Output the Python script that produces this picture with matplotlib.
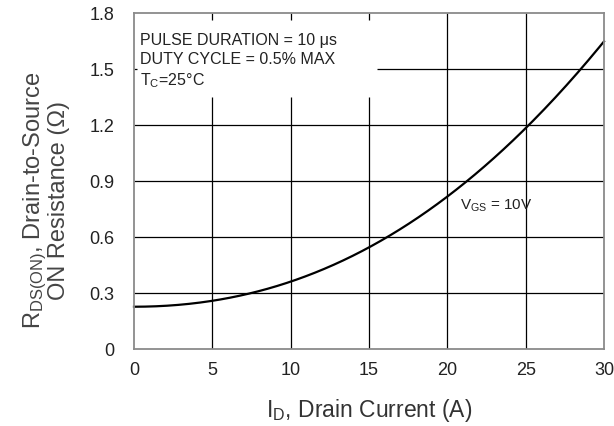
import numpy as np
import matplotlib
matplotlib.use("Agg")
import matplotlib.pyplot as plt
from numpy.polynomial import polynomial as P

plt.rcParams['font.family'] = ['Liberation Sans', 'DejaVu Sans']
plt.rcParams['mathtext.default'] = 'regular'

# curve
current = [0, 2.5, 5, 7.5, 10, 12.5, 15, 17.5, 20, 22.5, 25, 27.5, 30]
rds_on = [0.225, 0.235, 0.262, 0.30, 0.357, 0.44, 0.545, 0.67, 0.82, 0.99, 1.18, 1.40, 1.65]

x_ticks = [0, 5, 10, 15, 20, 25, 30]
y_ticks = [0, 0.3, 0.6, 0.9, 1.2, 1.5, 1.8]
y_tick_labels = ["0", "0.3", "0.6", "0.9", "1.2", "1.5", "1.8"]

fig = plt.figure(figsize=(6.14, 4.27), dpi=100)
ax = fig.add_axes([134 / 614, 77 / 427, 470 / 614, 336 / 427])

# grid, partly hidden behind the note box in the top-left corner
for xv in [5, 10, 15]:
    ax.vlines(xv, 0, 1.35, color='black', lw=0.9)
    ax.vlines(xv, 1.76, 1.8, color='black', lw=0.9)
for xv in [20, 25]:
    ax.vlines(xv, 0, 1.8, color='black', lw=0.9)
for yv in [0.3, 0.6, 0.9, 1.2]:
    ax.hlines(yv, 0, 30, color='black', lw=0.9)
ax.hlines(1.5, 15.5, 30, color='black', lw=0.9)
ax.hlines(1.5, 0, 0.2, color='black', lw=0.9)

# smooth the read points
smooth_x = np.linspace(0, 30, 300)
coef = P.polyfit(current, rds_on, 4)
ax.plot(smooth_x, P.polyval(smooth_x, coef), color='black', lw=1.6, clip_on=False)

ax.set_xlim(0, 30)
ax.set_ylim(0, 1.8)
ax.set_xticks(x_ticks)
ax.set_yticks(y_ticks)
ax.set_yticklabels(y_tick_labels)
ax.tick_params(length=0, labelsize=13, colors='#222222')
ax.tick_params(axis='y', pad=14)
ax.tick_params(axis='x', pad=9)
for s in ax.spines.values():
    s.set_color('#8a8a8a')
    s.set_linewidth(1.3)

ax.text(0.38, 1.70, "PULSE DURATION = 10 \u03bcs\nDUTY CYCLE = 0.5% MAX\nT$_C$=25\u00b0C",
        fontsize=11.5, va='top', ha='left', linespacing=1.32, color='#222222')
ax.text(20.8, 0.75, "V$_{GS}$ = 10V", fontsize=11, color='#222222', va='baseline')

fig.text(369 / 614, 1 - 411 / 427, "I$_D$, Drain Current (A)", ha='center', va='center',
         fontsize=16.5, color='#333333')
fig.text(46 / 614, 1 - 200 / 427, "R$_{DS(ON)}$, Drain-to-Source\nON Resistance (\u03a9)",
         ha='center', va='center', rotation=90, fontsize=17, color='#444444',
         linespacing=0.97)

fig.savefig("out.png", dpi=100)
